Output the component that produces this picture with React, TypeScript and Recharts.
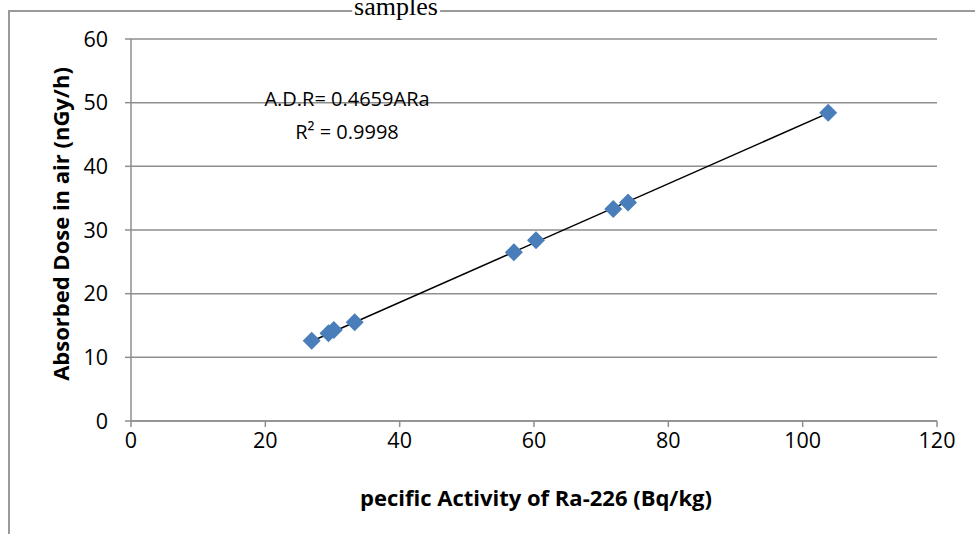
import { ScatterChart, Scatter, XAxis, YAxis, CartesianGrid, ReferenceLine } from 'recharts';

// Ra-226 specific activity (Bq/kg) vs absorbed dose rate in air (nGy/h)
const activity = [26.9, 29.4, 30.2, 33.3, 57.0, 60.3, 71.8, 74.0, 103.8];
const doseRate = [12.6, 13.8, 14.3, 15.5, 26.5, 28.4, 33.3, 34.3, 48.4];
const xTicks = [0, 20, 40, 60, 80, 100, 120];
const yTicks = [0, 10, 20, 30, 40, 50, 60];
const slope = 0.4659;

const points = activity.map((x, i) => ({ x, y: doseRate[i] }));
const xMin = Math.min(...activity);
const xMax = Math.max(...activity);

const gridColor = '#8e8e8e';
const font = '"Open Sans", "Liberation Sans", sans-serif';

function Diamond(props: any) {
  const { cx, cy } = props;
  const r = 9;
  return (
    <polygon
      points={`${cx},${cy - r} ${cx + r},${cy} ${cx},${cy + r} ${cx - r},${cy}`}
      fill="#4a7ebb"
    />
  );
}

export default function App() {
  const tickStyle = { fill: '#000', fontSize: 21.5, fontFamily: font };
  return (
    <div style={{ position: 'absolute', left: 0, top: 0, width: 975, height: 534, overflow: 'hidden', background: '#fff' }}>
      <div
        style={{
          position: 'absolute',
          left: 8,
          top: 10,
          width: 1000,
          height: 600,
          borderLeft: '2px solid #9a9a9a',
          borderTop: '2px solid #9a9a9a',
        }}
      />
      <div
        style={{
          position: 'absolute',
          left: 396,
          top: -7,
          transform: 'translateX(-50%)',
          fontFamily: '"Liberation Serif", serif',
          fontSize: 26,
          background: '#fff',
          lineHeight: '28px',
          padding: '0 2px',
        }}
      >
        samples
      </div>
      <ScatterChart
        width={975}
        height={534}
        margin={{ top: 39, right: 38, left: 71, bottom: 83 }}
        style={{ position: 'absolute', left: 0, top: 0 }}
      >
        <CartesianGrid vertical={false} stroke={gridColor} strokeWidth={1.5} />
        <XAxis
          type="number"
          dataKey="x"
          domain={[0, 120]}
          ticks={xTicks}
          height={30}
          tickSize={6}
          tickMargin={6}
          axisLine={{ stroke: gridColor, strokeWidth: 1.5 }}
          tickLine={{ stroke: gridColor, strokeWidth: 1.5 }}
          tick={tickStyle}
          interval={0}
        />
        <YAxis
          type="number"
          dataKey="y"
          domain={[0, 60]}
          ticks={yTicks}
          width={60}
          tickSize={6}
          tickMargin={17}
          axisLine={{ stroke: gridColor, strokeWidth: 1.5 }}
          tickLine={{ stroke: gridColor, strokeWidth: 1.5 }}
          tick={tickStyle}
          interval={0}
        />
        <Scatter data={points} shape={Diamond} isAnimationActive={false} />
        <ReferenceLine
          segment={[
            { x: xMin, y: slope * xMin },
            { x: xMax, y: slope * xMax },
          ]}
          stroke="#000"
          strokeWidth={1.5}
          ifOverflow="visible"
        />
      </ScatterChart>
      <div
        style={{
          position: 'absolute',
          left: 347,
          top: 82,
          transform: 'translateX(-50%)',
          textAlign: 'center',
          fontFamily: font,
          fontSize: 20,
          lineHeight: '33px',
          whiteSpace: 'nowrap',
        }}
      >
        A.D.R= 0.4659ARa
        <br />
        R² = 0.9998
      </div>
      <div
        style={{
          position: 'absolute',
          left: 536,
          top: 497,
          transform: 'translate(-50%, -50%)',
          fontFamily: font,
          fontWeight: 'bold',
          fontSize: 22,
          whiteSpace: 'nowrap',
        }}
      >
        pecific Activity of Ra-226 (Bq/kg)
      </div>
      <div
        style={{
          position: 'absolute',
          left: 60,
          top: 224,
          transform: 'translate(-50%, -50%) rotate(-90deg)',
          fontFamily: font,
          fontWeight: 'bold',
          fontSize: 22,
          whiteSpace: 'nowrap',
        }}
      >
        Absorbed Dose in air (nGy/h)
      </div>
    </div>
  );
}
